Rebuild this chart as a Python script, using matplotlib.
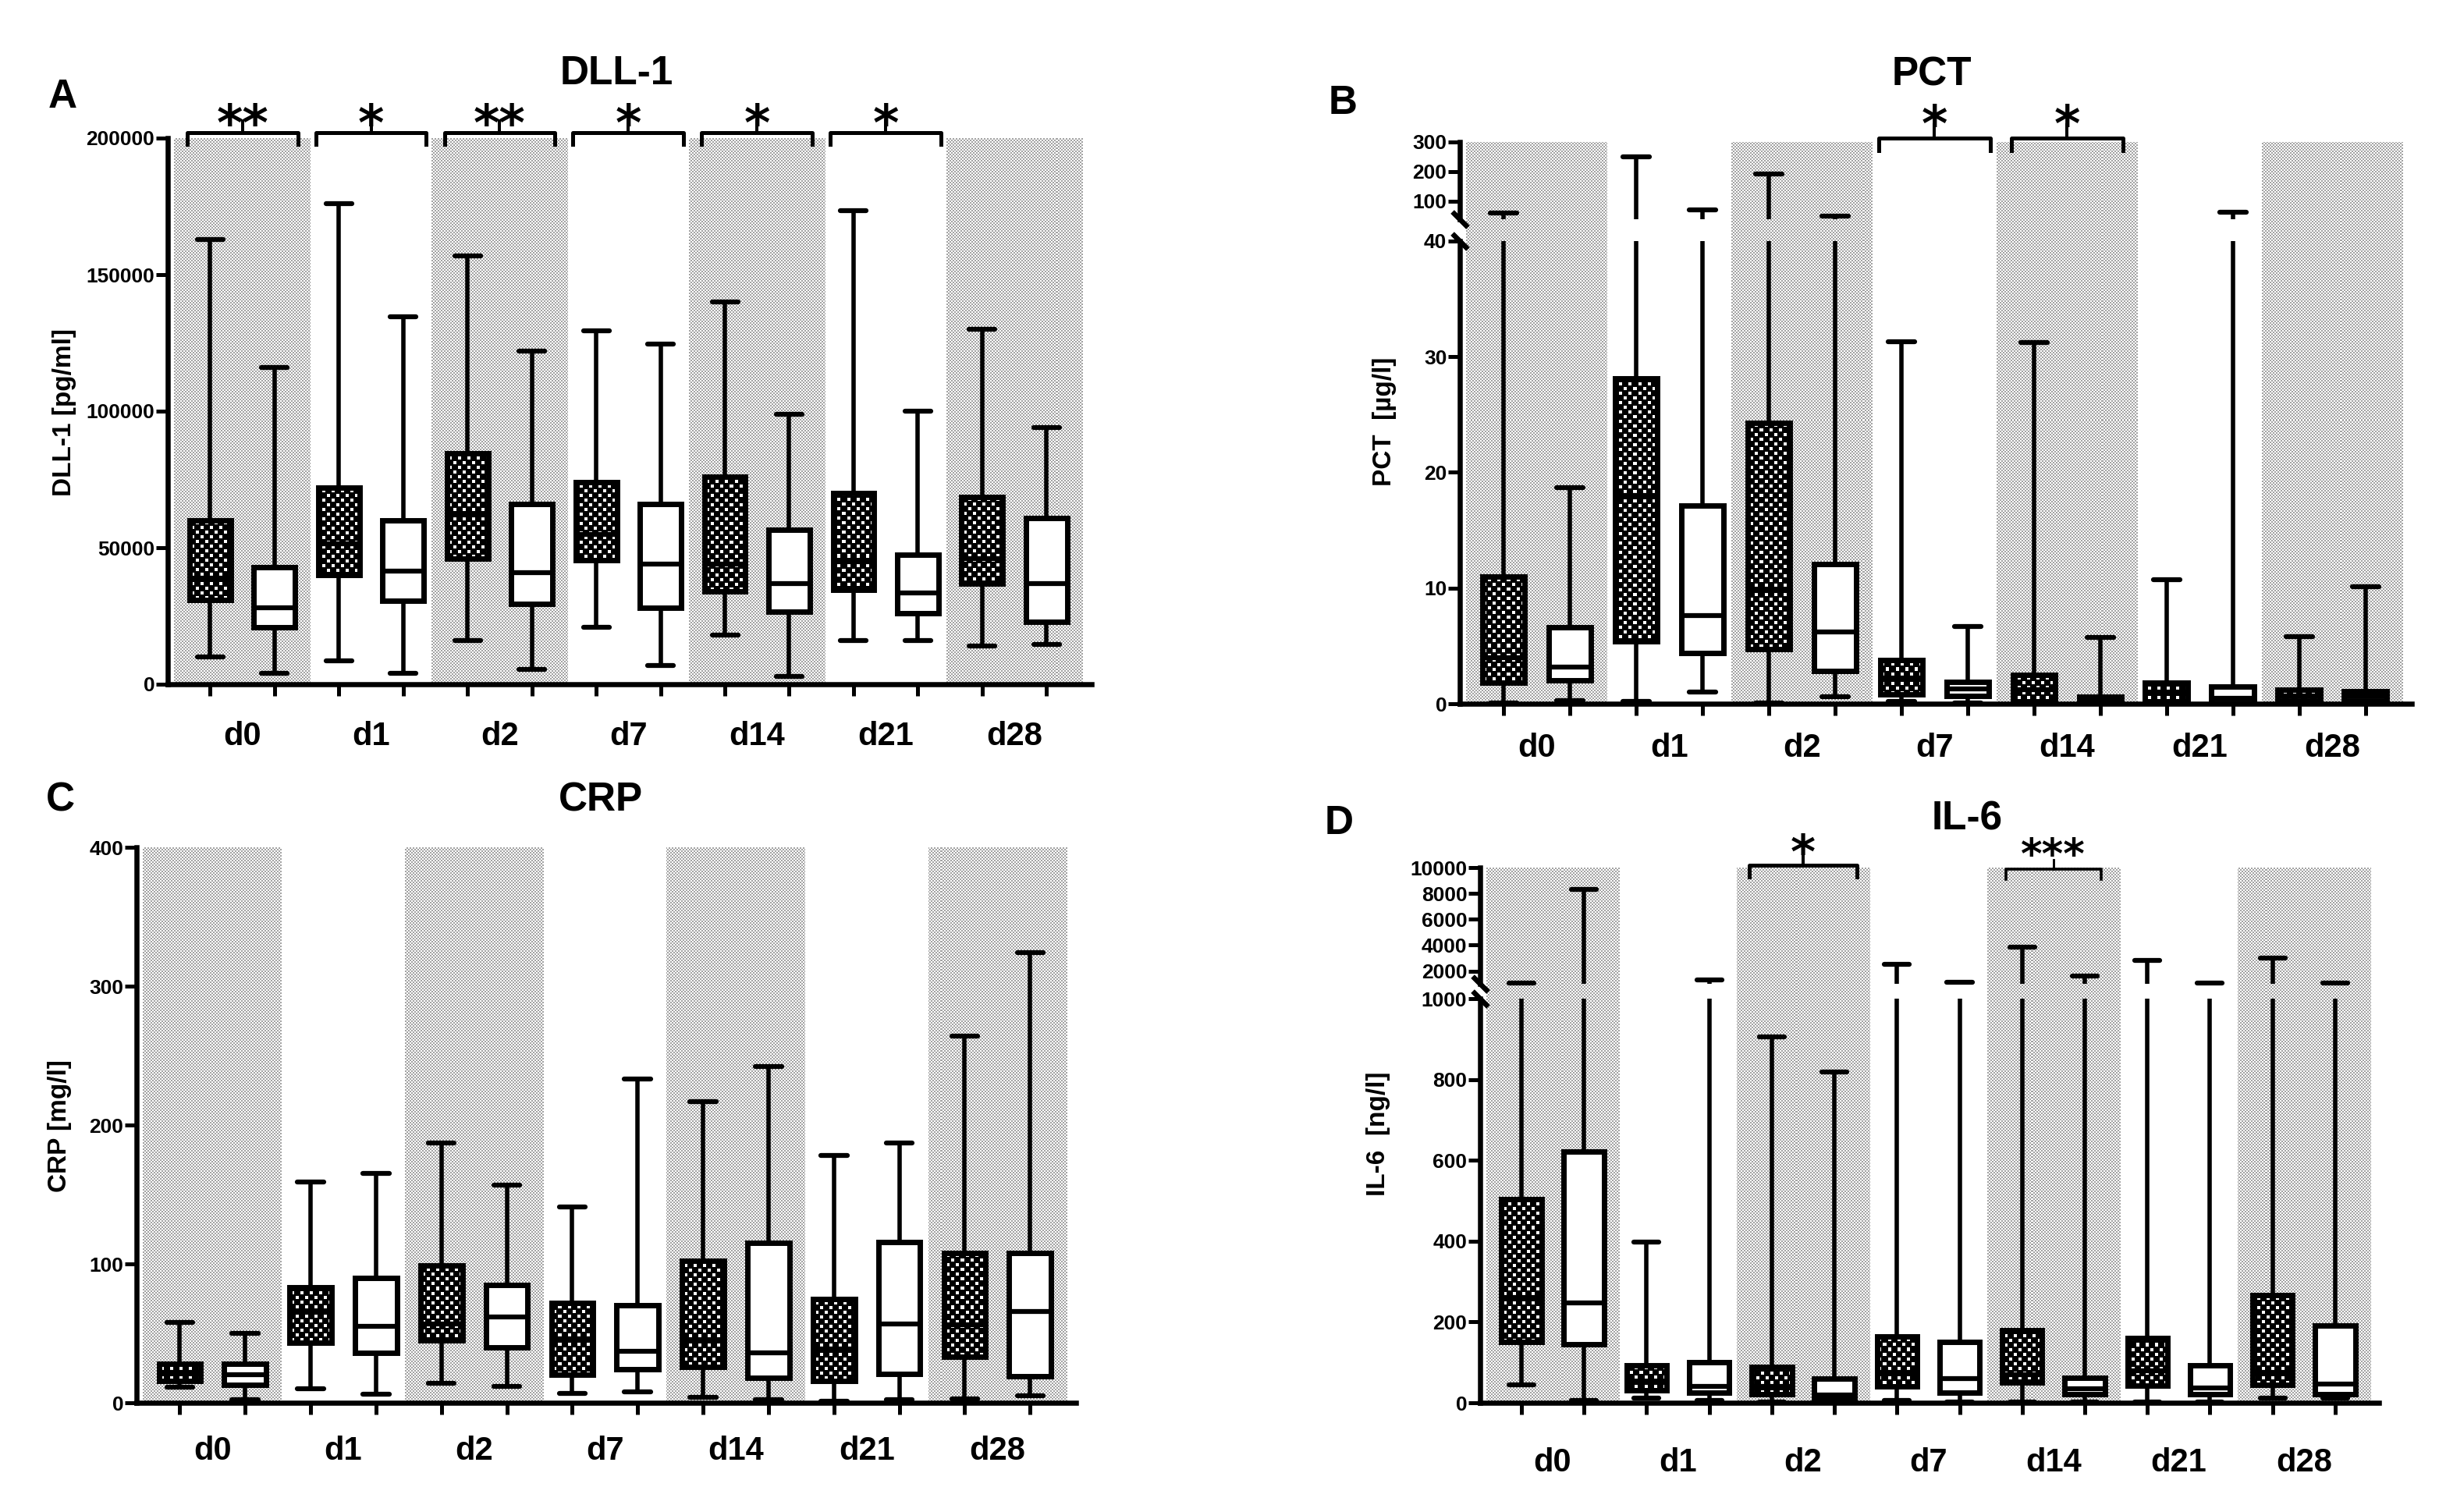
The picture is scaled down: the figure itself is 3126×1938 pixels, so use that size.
import numpy as np
import matplotlib
matplotlib.use("Agg")
import matplotlib.pyplot as plt
from matplotlib import transforms
from matplotlib.ticker import NullLocator

days = ["d0", "d1", "d2", "d7", "d14", "d21", "d28"]

# box stats per day: (min, q1, median, q3, max)
dll1_hatched = [(10000, 31000, 39000, 60000, 163000), (8600, 40000, 51500, 72000, 176000),
                (16000, 46000, 62000, 84500, 157000), (21000, 45500, 55000, 74000, 129500),
                (18000, 34000, 44000, 76000, 140000), (16000, 34500, 45000, 70000, 173500),
                (14000, 37000, 46000, 68500, 130000)]
dll1_plain = [(4000, 21000, 28000, 43000, 116000), (4000, 30600, 41500, 60000, 134500),
              (5500, 29500, 41000, 66000, 122000), (7000, 28000, 44000, 66000, 124500),
              (3000, 26500, 37000, 56500, 99000), (16000, 26000, 33500, 47500, 100000),
              (14500, 23000, 37000, 61000, 94000)]
dll1_sig = ["**", "*", "**", "*", "*", "*", ""]

pct_hatched = [(0.1, 1.8, 4.0, 11.0, 59), (0.2, 5.4, 18.0, 28.1, 251), (0.05, 4.7, 9.8, 24.3, 193),
               (0.2, 0.8, 2.2, 3.8, 31.3), (0.05, 0.2, 1.2, 2.5, 31.2), (0.02, 0.2, 1.0, 1.8, 10.7),
               (0.05, 0.3, 0.7, 1.2, 5.8)]
pct_plain = [(0.3, 2.0, 3.2, 6.6, 18.7), (1.0, 4.4, 7.6, 17.1, 72), (0.6, 2.8, 6.2, 12.1, 49),
             (0.1, 0.7, 1.3, 1.9, 6.7), (0.02, 0.1, 0.3, 0.6, 5.7), (0.02, 0.1, 0.5, 1.5, 64),
             (0.05, 0.3, 0.7, 1.1, 10.1)]
pct_sig = ["", "", "", "*", "*", "", ""]

crp_hatched = [(11, 16, 22, 28, 58), (10, 43, 65, 83, 159), (14, 45, 57, 99, 187),
               (7, 20, 46, 72, 141), (4, 26, 45, 102, 217), (1, 16, 39, 75, 178),
               (3, 33, 56, 108, 264)]
crp_plain = [(2, 13, 20, 28, 50), (6, 36, 55, 90, 165), (12, 40, 62, 85, 157),
             (8, 24, 37, 70, 233), (2, 18, 36, 115, 242), (2, 21, 57, 116, 187),
             (5, 19, 66, 108, 324)]

il6_hatched = [(45, 150, 260, 505, 1080), (12, 30, 50, 92, 398), (2, 22, 40, 89, 905),
               (5, 40, 75, 165, 2500), (2, 50, 69, 179, 3850), (1, 43, 80, 161, 2800),
               (12, 45, 75, 266, 3000)]
il6_plain = [(5, 145, 248, 622, 8300), (6, 25, 40, 100, 1300), (1, 12, 20, 59, 818),
             (2, 26, 60, 150, 1100), (1, 22, 35, 61, 1600), (2, 22, 37, 93, 1080),
             (12, 22, 46, 191, 1080)]
il6_sig = ["", "", "*", "", "***", "", ""]

W, H = 3126, 1938

plt.rcParams["font.family"] = ["Liberation Sans", "DejaVu Sans"]
plt.rcParams["font.weight"] = "bold"

fig = plt.figure(figsize=(W / 100, H / 100), dpi=100)


def add_ax(left, right, top, bottom):
    # axes placed in pixel coords of the reference picture
    return fig.add_axes([left / W, 1 - bottom / H, (right - left) / W, (bottom - top) / H])


def broken_scale(b, gap, r):
    def fwd(y):
        y = np.asarray(y, dtype=float)
        return np.where(y <= b, y, b + gap + (y - b) * r)

    def inv(z):
        z = np.asarray(z, dtype=float)
        up = b + (z - b - gap) / r
        return np.where(z <= b, z, np.where(z < b + gap, b, up))
    return fwd, inv


def texture(ax, kind):
    bb = ax.get_position()
    nx, ny = int(round(bb.width * W / 2)), int(round(bb.height * H / 2))
    yy, xx = np.indices((ny, nx))
    if kind == "stipple":
        return np.where((xx + yy) % 2 == 0, 0.64, 1.0)
    white = ((xx % 6 < 2) & (yy % 6 < 2)) | (((xx + 3) % 6 < 2) & ((yy + 3) % 6 < 2))
    return white.astype(float)


def paint(ax, img, patch, z):
    im = ax.imshow(img, cmap="gray", vmin=0, vmax=1, extent=(0, 1, 0, 1), origin="lower",
                   transform=ax.transAxes, interpolation="nearest", aspect="auto", zorder=z)
    im.set_clip_path(patch)


def boxes(ax, stats, pos, filled, brk):
    lo, q1, med, q3, hi = np.array(stats, dtype=float).T
    kw = dict(color="black", lw=4.0, zorder=2)
    ax.vlines(pos, lo, q1, **kw)
    if brk is None:
        ax.vlines(pos, q3, hi, **kw)
    else:
        b = brk[0]
        ax.vlines(pos, q3, np.minimum(hi, b), **kw)
        up = hi > b
        ax.vlines(pos[up], b * (1 + 1e-9), hi[up], **kw)
    for v in (lo, hi):
        ax.hlines(v, pos - 0.1, pos + 0.1, color="black", lw=4.5, capstyle="round", zorder=2)
    bars = ax.bar(pos, q3 - q1, bottom=q1, width=0.32, color="black" if filled else "white",
                  lw=0, zorder=3)
    if filled:
        tex = texture(ax, "checker")
        for p in bars.patches:
            paint(ax, tex, p, 3.5)
    ax.bar(pos, q3 - q1, bottom=q1, width=0.32, facecolor="none", edgecolor="black",
           lw=5, zorder=4)
    ax.hlines(med, pos - 0.16, pos + 0.16, color="black", lw=4.5, zorder=5)


def bracket(ax, i, text, top, leg, tick, base, hw=0.43, size=46, lw=3.6):
    tr = transforms.blended_transform_factory(ax.transData, ax.transAxes)
    ax.plot([i - hw, i - hw, i + hw, i + hw], [leg, top, top, leg], transform=tr, color="k",
            lw=lw, clip_on=False, solid_joinstyle="round", zorder=6)
    ax.plot([i, i], [top, tick], transform=tr, color="k", lw=lw * 0.8, clip_on=False)
    ax.text(i, base, text, transform=tr, ha="center", va="baseline", fontsize=size,
            family="DejaVu Sans", fontweight="bold", clip_on=False)


def panel(ax, hatched, plain, yticks, ylim, xpad, brk=None):
    x = np.arange(len(days))
    ax.set_xlim(-0.58, 6.6)
    if brk is not None:
        ax.set_yscale("function", functions=broken_scale(*brk))
    ax.set_ylim(*ylim)

    # alternating stippled background
    tex = texture(ax, "stipple")
    for i in x[::2]:
        span = ax.axvspan(i - 0.53, i + 0.53, facecolor="none", lw=0, zorder=0)
        paint(ax, tex, span, 0.5)

    boxes(ax, hatched, x - 0.25, True, brk)
    boxes(ax, plain, x + 0.25, False, brk)

    ax.set_xticks(np.sort(np.r_[x - 0.25, x + 0.25]))
    ax.set_xticks(x, days, minor=True)
    ax.tick_params(axis="x", which="major", labelbottom=False, length=11, width=3.6)
    ax.tick_params(axis="x", which="minor", length=0, pad=xpad, labelsize=30)
    ax.set_yticks(yticks, [str(t) for t in yticks])
    ax.yaxis.set_minor_locator(NullLocator())
    ax.tick_params(axis="y", length=11, width=3.6, pad=1, labelsize=19)
    for side in ("top", "right"):
        ax.spines[side].set_visible(False)
    for side in ("left", "bottom"):
        ax.spines[side].set_linewidth(4.7)

    if brk is not None:
        b = brk[0]
        ax.spines["left"].set_visible(False)
        tr = transforms.blended_transform_factory(ax.transAxes, ax.transData)
        ax.plot([0, 0], [ylim[0], b], transform=tr, color="k", lw=4.7, clip_on=False)
        ax.plot([0, 0], [b * (1 + 1e-9), ylim[1]], transform=tr, color="k", lw=4.7,
                clip_on=False)
        ax.plot([0, 0], [b, b * (1 + 1e-9)], transform=tr, ls="none", marker=(2, 2, 45),
                ms=20, mew=4.5, color="k", clip_on=False, zorder=6)


# A  DLL-1
axA = add_ax(215, 1399, 177, 877)
panel(axA, dll1_hatched, dll1_plain, [0, 50000, 100000, 150000, 200000], (0, 200000), 34)
for i, s in enumerate(dll1_sig):
    if s:
        bracket(axA, i, s, 1.01, 0.989, 1.031, 0.995)

# B  PCT (broken axis)
axB = add_ax(1871, 3091, 182, 902)
panel(axB, pct_hatched, pct_plain, [0, 10, 20, 30, 40, 100, 200, 300], (0, 300), 27,
      brk=(40, 1.9, 0.0256))
for i, s in enumerate(pct_sig):
    if s:
        bracket(axB, i, s, 1.007, 0.985, 1.03, 1.002, hw=0.42)

# C  CRP
axC = add_ax(175, 1379, 1086, 1798)
panel(axC, crp_hatched, crp_plain, [0, 100, 200, 300, 400], (0, 400), 30)

# D  IL-6 (broken axis)
axD = add_ax(1897, 3049, 1112, 1798)
panel(axD, il6_hatched, il6_plain, [0, 200, 400, 600, 800, 1000, 2000, 4000, 6000, 8000, 10000],
      (0, 10000), 41, brk=(1000, 37, 0.032))
for i, s in enumerate(il6_sig):
    if s == "*":
        bracket(axD, i, s, 1.004, 0.982, 1.022, 0.999, size=44)
    elif s:
        bracket(axD, i, s, 0.997, 0.978, 1.015, 0.998, hw=0.38, size=38, lw=2.6)

# titles, panel letters, axis labels
for x, y, s in [(790, 108, "DLL-1"), (2476, 110, "PCT"), (770, 1040, "CRP"), (2521, 1064, "IL-6")]:
    fig.text(x / W, 1 - y / H, s, ha="center", va="baseline", fontsize=37, fontweight="bold")
for x, y, s in [(80, 138, "A"), (1721, 146, "B"), (77, 1040, "C"), (1716, 1069, "D")]:
    fig.text(x / W, 1 - y / H, s, ha="center", va="baseline", fontsize=37, fontweight="bold")
for x, y, s in [(83, 528, "DLL-1 [pg/ml]"), (1775, 540, "PCT  [µg/l]"),
                (77, 1443, "CRP [mg/l]"), (1767, 1453, "IL-6  [ng/l]")]:
    fig.text(x / W, 1 - y / H, s, rotation=90, ha="center", va="center", fontsize=24,
             fontweight="bold")

fig.savefig("out.png", dpi=100, facecolor="white")
